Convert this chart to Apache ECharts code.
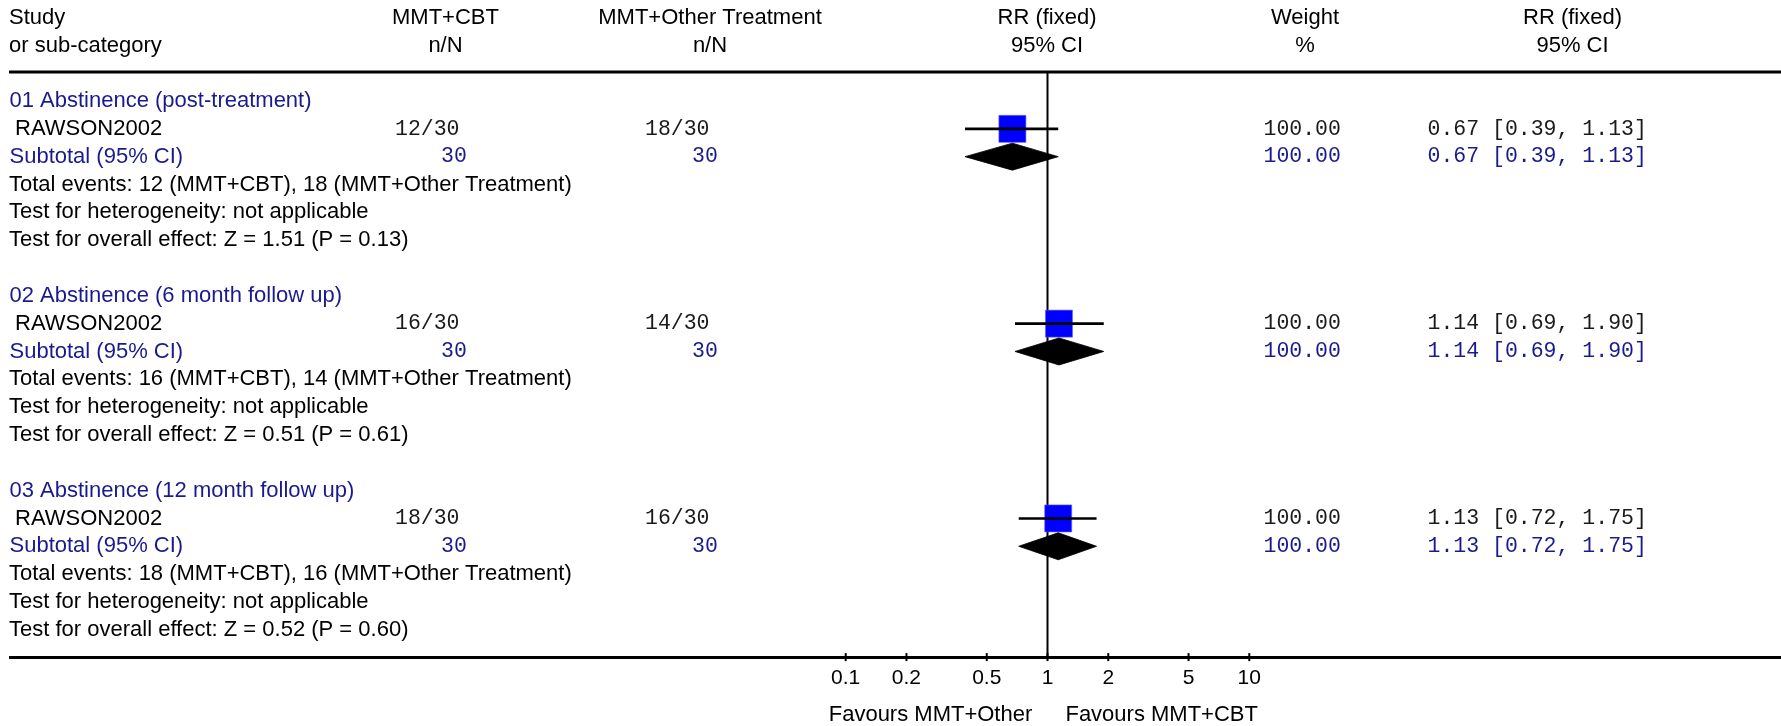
<!DOCTYPE html>
<html><head><meta charset="utf-8">
<script src="https://cdn.jsdelivr.net/npm/echarts@6/dist/echarts.min.js"></script>
<style>html,body{margin:0;padding:0;background:#fff}#c{width:1781px;height:726px}</style>
</head><body><div id="c"></div>
<script>
// ---------------- data ----------------
const groupTitles = ['01 Abstinence (post-treatment)', '02 Abstinence (6 month follow up)', '03 Abstinence (12 month follow up)'];
const studyNames = ['RAWSON2002', 'RAWSON2002', 'RAWSON2002'];
const cbtEvents = [12, 16, 18];
const cbtTotals = [30, 30, 30];
const otherEvents = [18, 14, 16];
const otherTotals = [30, 30, 30];
const weights = [100, 100, 100];
const rrEst = [0.67, 1.14, 1.13];
const rrLow = [0.39, 0.69, 0.72];
const rrHigh = [1.13, 1.90, 1.75];
const heterogeneity = ['not applicable', 'not applicable', 'not applicable'];
const overallTests = ['Z = 1.51 (P = 0.13)', 'Z = 0.51 (P = 0.61)', 'Z = 0.52 (P = 0.60)'];
const axisTickValues = [0.1, 0.2, 0.5, 1, 2, 5, 10];
const headerLine1 = ['Study', 'MMT+CBT', 'MMT+Other Treatment', 'RR (fixed)', 'Weight', 'RR (fixed)'];
const headerLine2 = ['or sub-category', 'n/N', 'n/N', '95% CI', '%', '95% CI'];
const favoursLabels = ['Favours MMT+Other', 'Favours MMT+CBT'];
const armNames = ['MMT+CBT', 'MMT+Other Treatment'];

// ---------------- layout ----------------
const ROWS_PER_GROUP = 7;
const Y_MIN = -1.042, Y_MAX = 20;
const SANS = '"Liberation Sans", Arial, sans-serif';
const MONO = '"Liberation Mono", "DejaVu Sans Mono", monospace';
const FS = 22, FSM = 21.5;
const BLUE = '#1a1a8f';
const studyRow = g => g * ROWS_PER_GROUP + 1;
const subRow = g => g * ROWS_PER_GROUP + 2;

const chart = echarts.init(document.getElementById('c'), null, {renderer: 'canvas'});

chart.setOption({
  animation: false,
  backgroundColor: '#fff',
  grid: {left: 845.7, width: 403.6, top: 72, height: 585.6, containLabel: false, outerBoundsMode: 'none'},
  xAxis: {
    type: 'log', logBase: 10, min: 0.1, max: 10, position: 'bottom',
    axisLine: {show: false, onZero: false},
    splitLine: {show: false},
    axisTick: {show: false},
    axisLabel: {
      show: true, customValues: axisTickValues, margin: 10,
      color: '#000', fontSize: 21, fontFamily: SANS,
      formatter: v => String(parseFloat(Number(v).toFixed(1)))
    }
  },
  yAxis: {type: 'value', min: Y_MIN, max: Y_MAX, inverse: true, show: false},
  series: [
    { // line of no effect
      type: 'custom', z: 1, silent: true,
      data: [[1]],
      renderItem: (params, api) => {
        const a = api.coord([api.value(0), Y_MIN]);
        const b = api.coord([api.value(0), Y_MAX]);
        return {type: 'line', shape: {x1: a[0], y1: a[1], x2: b[0], y2: b[1]}, style: {stroke: '#000', lineWidth: 2}};
      }
    },
    { // axis tick marks crossing the bottom rule
      type: 'custom', z: 5, silent: true,
      data: axisTickValues.map(v => [v, Y_MAX]),
      renderItem: (params, api) => {
        const p = api.coord([api.value(0), api.value(1)]);
        return {type: 'line', shape: {x1: p[0], y1: p[1] - 4.5, x2: p[0], y2: p[1] + 3.5}, style: {stroke: '#000', lineWidth: 2}};
      }
    },
    { // study squares
      type: 'scatter', z: 2, silent: true,
      symbol: 'rect',
      symbolSize: d => 27 * Math.sqrt(d[2] / 100),
      itemStyle: {color: '#0000ff', borderColor: '#5a5aff', borderWidth: 0.6, opacity: 1},
      data: rrEst.map((v, i) => [v, studyRow(i), weights[i]])
    },
    { // confidence interval whiskers
      type: 'custom', z: 3, silent: true,
      data: rrEst.map((v, i) => [rrLow[i], rrHigh[i], studyRow(i)]),
      renderItem: (params, api) => {
        const a = api.coord([api.value(0), api.value(2)]);
        const b = api.coord([api.value(1), api.value(2)]);
        return {type: 'line', shape: {x1: a[0], y1: a[1], x2: b[0], y2: b[1]}, style: {stroke: '#000', lineWidth: 2.6}};
      }
    },
    { // subtotal diamonds
      type: 'custom', z: 3, silent: true,
      data: rrEst.map((v, i) => [rrLow[i], v, rrHigh[i], subRow(i)]),
      renderItem: (params, api) => {
        const y = api.value(3);
        const l = api.coord([api.value(0), y]);
        const m = api.coord([api.value(1), y]);
        const r = api.coord([api.value(2), y]);
        const h = 13.5;
        return {type: 'polygon', shape: {points: [[l[0], l[1]], [m[0], m[1] - h], [r[0], r[1]], [m[0], m[1] + h]]}, style: {fill: '#000', stroke: '#000', lineWidth: 0.8, lineJoin: 'round'}};
      }
    }
  ]
});

// ---------------- table text ----------------
const rowPx = k => chart.convertToPixel({yAxisIndex: 0}, k);
const g = [];
function txt(text, x, y, align, opts) {
  opts = opts || {};
  g.push({
    type: 'text', x: x, y: y, silent: true,
    style: {
      text: text, align: align, verticalAlign: 'middle',
      fill: opts.fill || '#000',
      fontSize: opts.mono ? FSM : FS,
      fontFamily: opts.mono ? MONO : SANS
    }
  });
}
// headers
const headerX = [9, 445.5, 710, 1047, 1305, 1572.5];
headerLine1.forEach((t, i) => txt(t, headerX[i], 18, i === 0 ? 'left' : 'center'));
headerLine2.forEach((t, i) => txt(t, headerX[i], 46, i === 0 ? 'left' : 'center'));
// rules
const yBottom = rowPx(Y_MAX);
g.push({type: 'line', silent: true, z: 0, shape: {x1: 9, y1: 72, x2: 1781, y2: 72}, style: {stroke: '#000', lineWidth: 3}});
g.push({type: 'line', silent: true, z: 0, shape: {x1: 9, y1: yBottom, x2: 1781, y2: yBottom}, style: {stroke: '#000', lineWidth: 3}});

const ci = i => rrEst[i].toFixed(2) + ' [' + rrLow[i].toFixed(2) + ', ' + rrHigh[i].toFixed(2) + ']';
groupTitles.forEach((title, i) => {
  const base = i * ROWS_PER_GROUP;
  txt(title, 9.5, rowPx(base), 'left', {fill: BLUE});
  const ys = rowPx(studyRow(i));
  txt(studyNames[i], 15, ys, 'left');
  txt(cbtEvents[i] + '/' + cbtTotals[i], 395, ys, 'left', {mono: true, fill: '#1a1a1a'});
  txt(otherEvents[i] + '/' + otherTotals[i], 645, ys, 'left', {mono: true, fill: '#1a1a1a'});
  txt(weights[i].toFixed(2), 1263.5, ys, 'left', {mono: true, fill: '#1a1a1a'});
  txt(ci(i), 1427.5, ys, 'left', {mono: true, fill: '#1a1a1a'});
  const yt = rowPx(subRow(i));
  txt('Subtotal (95% CI)', 9.5, yt, 'left', {fill: BLUE});
  txt(String(cbtTotals[i]), 441, yt, 'left', {mono: true, fill: BLUE});
  txt(String(otherTotals[i]), 692, yt, 'left', {mono: true, fill: BLUE});
  txt(weights[i].toFixed(2), 1263.5, yt, 'left', {mono: true, fill: BLUE});
  txt(ci(i), 1427.5, yt, 'left', {mono: true, fill: BLUE});
  txt('Total events: ' + cbtEvents[i] + ' (' + armNames[0] + '), ' + otherEvents[i] + ' (' + armNames[1] + ')', 9, rowPx(base + 3), 'left');
  txt('Test for heterogeneity: ' + heterogeneity[i], 9, rowPx(base + 4), 'left');
  txt('Test for overall effect: ' + overallTests[i], 9, rowPx(base + 5), 'left');
});
// favours labels
txt(favoursLabels[0], 930.5, 715, 'center');
txt(favoursLabels[1], 1161.7, 715, 'center');

chart.setOption({graphic: {elements: g}});
</script>
</body></html>
